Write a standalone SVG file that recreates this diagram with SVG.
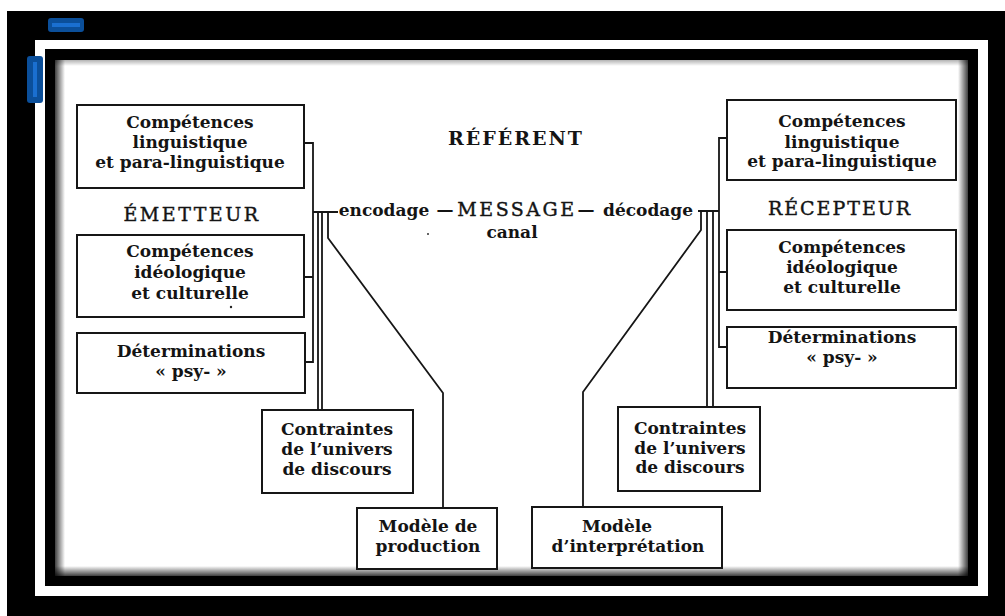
<svg xmlns="http://www.w3.org/2000/svg" width="1005" height="616" viewBox="0 0 1005 616">
<style>
.box{fill:#fff;stroke:#161616;stroke-width:2}
.ln{fill:none;stroke:#161616;stroke-width:1.8}
.t{font-family:"DejaVu Serif","Liberation Serif",serif;font-weight:bold;font-size:17px;text-anchor:middle;fill:#141414}
.h{font-family:"DejaVu Serif","Liberation Serif",serif;font-weight:normal;font-size:19px;text-anchor:middle;fill:#141414;stroke:#141414;stroke-width:0.4;letter-spacing:2.5px}
</style>
<defs>
<linearGradient id="gl" x1="0" y1="0" x2="1" y2="0"><stop offset="0" stop-color="#000" stop-opacity="0.75"/><stop offset="1" stop-color="#000" stop-opacity="0"/></linearGradient>
<linearGradient id="gr" x1="1" y1="0" x2="0" y2="0"><stop offset="0" stop-color="#000" stop-opacity="0.75"/><stop offset="1" stop-color="#000" stop-opacity="0"/></linearGradient>
<linearGradient id="gb" x1="0" y1="1" x2="0" y2="0"><stop offset="0" stop-color="#000" stop-opacity="0.75"/><stop offset="1" stop-color="#000" stop-opacity="0"/></linearGradient>
<linearGradient id="gt" x1="0" y1="0" x2="0" y2="1"><stop offset="0" stop-color="#000" stop-opacity="0.3"/><stop offset="1" stop-color="#000" stop-opacity="0"/></linearGradient>
</defs>
<g id="frame">
<rect x="0" y="0" width="1005" height="616" fill="#fff"/>
<rect x="7" y="11" width="998" height="605" fill="#000"/>
<rect x="35" y="40" width="953" height="556" fill="#fff"/>
<rect x="45" y="49" width="933" height="537" fill="#000"/>
<rect x="55" y="60" width="913" height="516" fill="#fff"/>
<rect x="55" y="60" width="10" height="516" fill="url(#gl)"/>
<rect x="958" y="60" width="10" height="516" fill="url(#gr)"/>
<rect x="55" y="566" width="913" height="10" fill="url(#gb)"/>
<rect x="55" y="60" width="913" height="6" fill="url(#gt)"/>
<rect x="48" y="18" width="36" height="14" rx="3" fill="#0b4f9a"/>
<rect x="52" y="23" width="28" height="4" fill="#1a6fd0"/>
<rect x="27" y="56" width="16" height="47" rx="3" fill="#0b4f9a"/>
<rect x="33" y="62" width="4" height="35" fill="#1a6fd0"/>
</g>
<g id="connectors">
<path class="ln" d="M304,143 H313 V362 H305 M304,277 H313 M313,212 H338"/>
<path class="ln" d="M318,212 V410 M322,212 V410 M328,212 V238 L443,393 V508"/>
<path class="ln" d="M727,138 H719 V347 H727 M719,272 H727 M719,211 H698"/>
<path class="ln" d="M707,211 V407 M713,211 V407 M701,211 V230 L583,392 V507"/>
</g>
<g id="emetteur-ling">
<rect class="box" x="77" y="105" width="227" height="83"/>
<text class="t" x="190" y="128">Compétences</text>
<text class="t" x="190" y="148">linguistique</text>
<text class="t" x="190" y="168">et para-linguistique</text>
</g>
<g id="emetteur-label"><text class="h" x="192" y="221">ÉMETTEUR</text></g>
<g id="emetteur-ideo">
<rect class="box" x="77" y="235" width="227" height="82"/>
<text class="t" x="190" y="257">Compétences</text>
<text class="t" x="190" y="278">idéologique</text>
<text class="t" x="190" y="299">et culturelle</text>
<circle cx="231" cy="307" r="1.2" fill="#222"/>
</g>
<g id="emetteur-psy">
<rect class="box" x="77" y="333" width="228" height="60"/>
<text class="t" x="191" y="357">Déterminations</text>
<text class="t" x="191" y="377">« psy- »</text>
</g>
<g id="emetteur-contraintes">
<rect class="box" x="262" y="410" width="151" height="83"/>
<text class="t" x="337" y="435">Contraintes</text>
<text class="t" x="337" y="455">de l’univers</text>
<text class="t" x="337" y="475">de discours</text>
</g>
<g id="modele-production">
<rect class="box" x="357" y="508" width="140" height="61"/>
<text class="t" x="428" y="532">Modèle de</text>
<text class="t" x="428" y="552">production</text>
</g>
<g id="referent"><text class="t" x="516" y="145" style="font-size:19px;letter-spacing:2px">RÉFÉRENT</text></g>
<g id="message">
<text class="t" x="384" y="216">encodage</text>
<text class="t" x="445" y="216">—</text>
<text class="h" x="517" y="216">MESSAGE</text>
<text class="t" x="586" y="216">—</text>
<text class="t" x="648" y="216">décodage</text>
<text class="t" x="512" y="238">canal</text>
<circle cx="428" cy="234" r="1" fill="#333"/>
</g>
<g id="recepteur-ling">
<rect class="box" x="727" y="100" width="229" height="80"/>
<text class="t" x="842" y="127">Compétences</text>
<text class="t" x="842" y="148">linguistique</text>
<text class="t" x="842" y="167">et para-linguistique</text>
</g>
<g id="recepteur-label"><text class="h" x="840" y="215" style="letter-spacing:2px">RÉCEPTEUR</text></g>
<g id="recepteur-ideo">
<rect class="box" x="727" y="230" width="229" height="80"/>
<text class="t" x="842" y="253">Compétences</text>
<text class="t" x="842" y="273">idéologique</text>
<text class="t" x="842" y="293">et culturelle</text>
</g>
<g id="recepteur-psy">
<rect class="box" x="727" y="327" width="229" height="61"/>
<text class="t" x="842" y="343">Déterminations</text>
<text class="t" x="842" y="363">« psy- »</text>
</g>
<g id="recepteur-contraintes">
<rect class="box" x="618" y="407" width="142" height="84"/>
<text class="t" x="690" y="434">Contraintes</text>
<text class="t" x="690" y="454">de l’univers</text>
<text class="t" x="690" y="473">de discours</text>
</g>
<g id="modele-interpretation">
<rect class="box" x="532" y="507" width="190" height="61"/>
<text class="t" x="617" y="532">Modèle</text>
<text class="t" x="628" y="552">d’interprétation</text>
</g>
</svg>
